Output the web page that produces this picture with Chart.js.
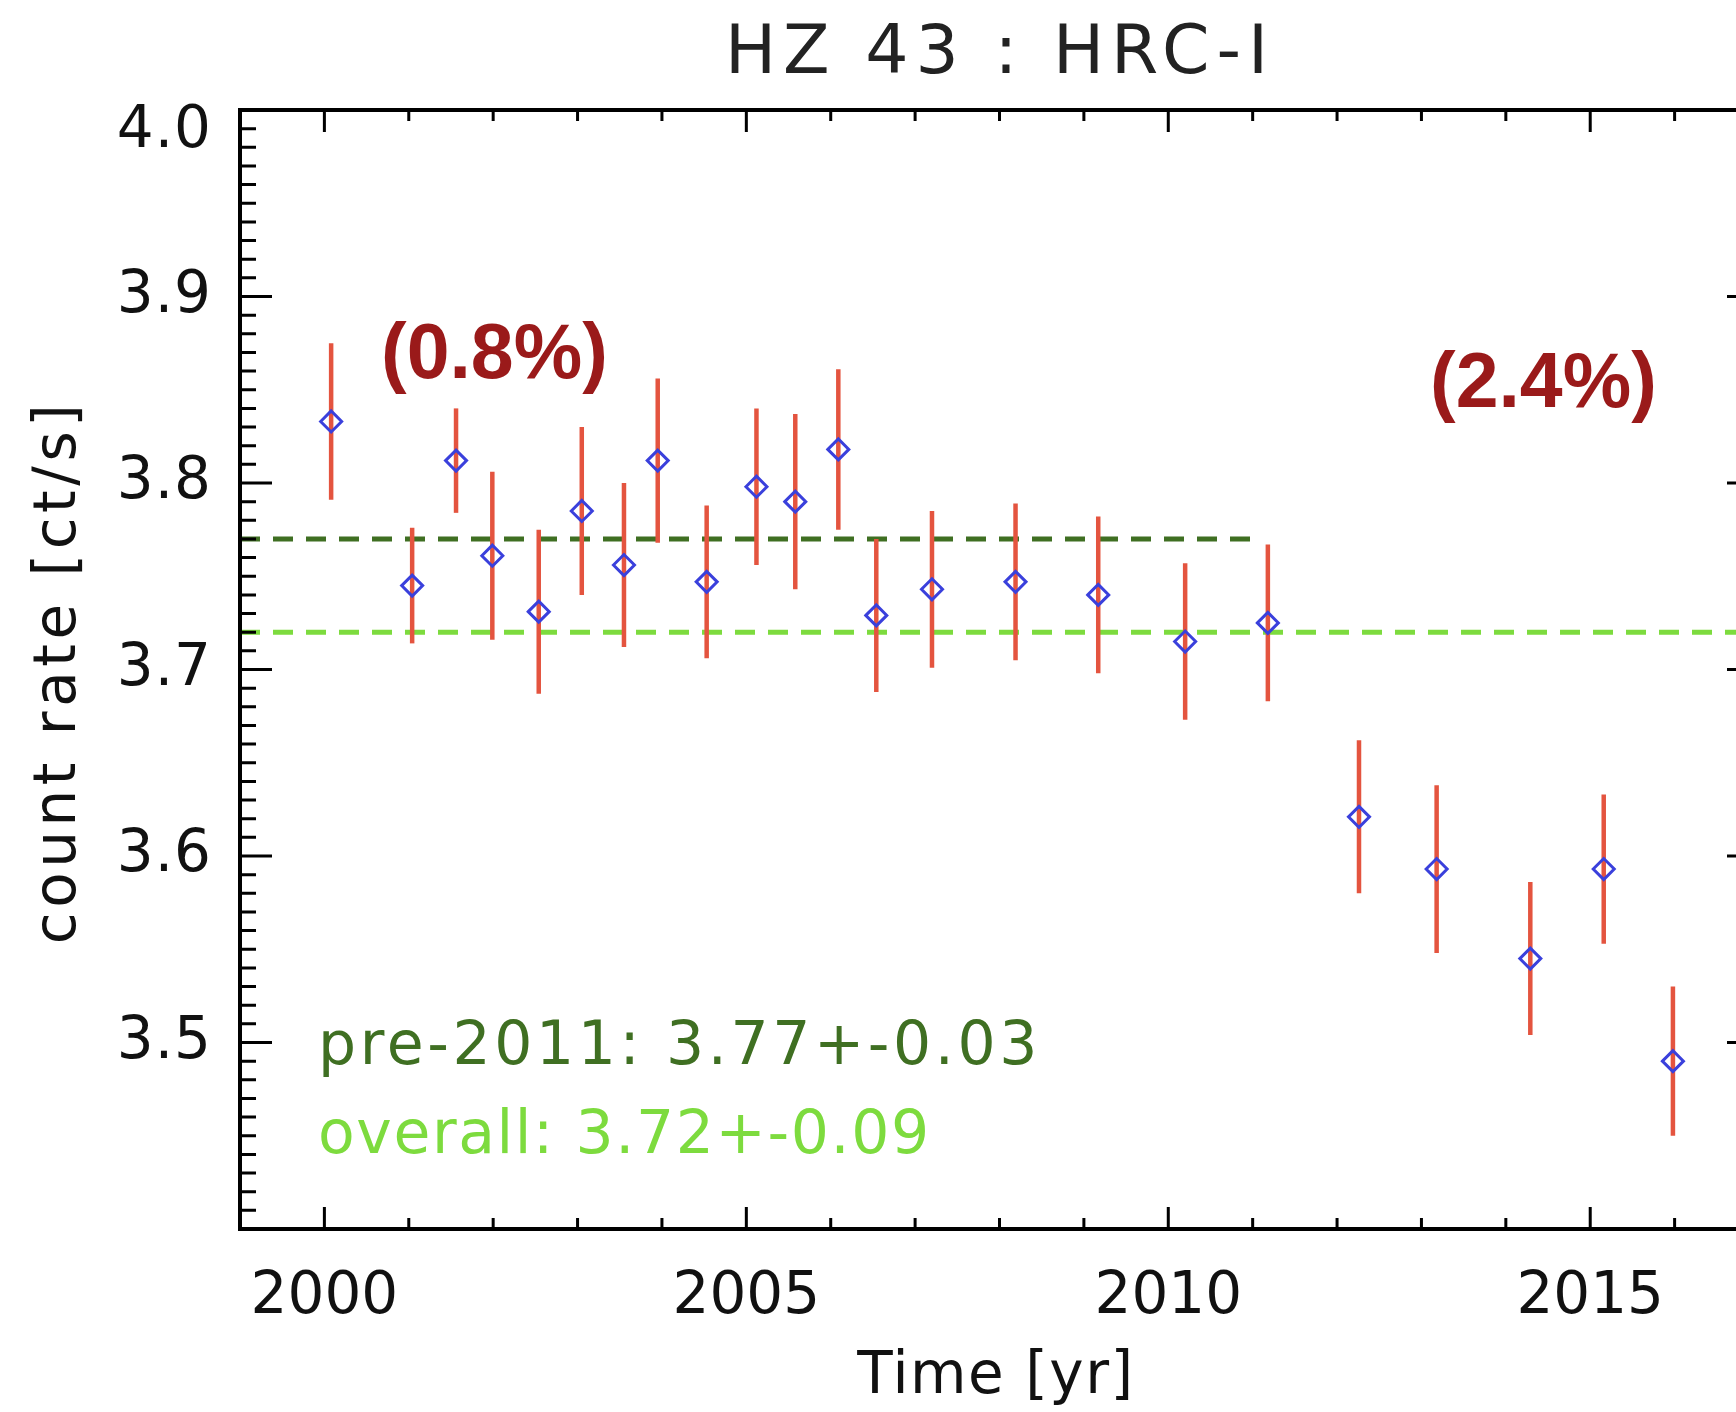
<!DOCTYPE html>
<html>
<head>
<meta charset="utf-8">
<title>HZ 43 : HRC-I</title>
<script src="https://cdn.jsdelivr.net/npm/chart.js@4.4.1/dist/chart.umd.min.js"></script>
<style>
  html, body { margin: 0; padding: 0; background: #fff; overflow: hidden; }
  canvas { display: block; }
</style>
</head>
<body>
<canvas id="count-rate" width="1780" height="1412"></canvas>
<script>
// HZ 43 count rate per observation, with 1-sigma errors
var years = [2000.08, 2001.04, 2001.56, 2001.99, 2002.54, 2003.05, 2003.55, 2003.95,
  2004.53, 2005.12, 2005.58, 2006.09, 2006.54, 2007.20, 2008.19, 2009.17,
  2010.20, 2011.18, 2012.26, 2013.18, 2014.29, 2015.16, 2015.98];
var rates = [3.833, 3.745, 3.812, 3.761, 3.731, 3.785, 3.756, 3.812,
  3.747, 3.798, 3.790, 3.818, 3.729, 3.743, 3.747, 3.740,
  3.715, 3.725, 3.621, 3.593, 3.545, 3.593, 3.490];
var errors = [0.042, 0.031, 0.028, 0.045, 0.044, 0.045, 0.044, 0.044,
  0.041, 0.042, 0.047, 0.043, 0.041, 0.042, 0.042, 0.042,
  0.042, 0.042, 0.041, 0.045, 0.041, 0.040, 0.040];

var preMean = 3.77;
var preEnd = 2011;
var allMean = 3.72;

var xTickLabels = [2000, 2005, 2010, 2015];
var yTickLabels = ["3.5", "3.6", "3.7", "3.8", "3.9", "4.0"];

var FONT = "'DejaVu Sans', sans-serif";
var darkGreen = "#3f6f22";
var lightGreen = "#7ddb3e";

var points = years.map(function (t, i) {
  return { x: t, y: rates[i] };
});

function drawText(ctx, str, x, y, font, color, align, spacing) {
  ctx.font = font;
  ctx.fillStyle = color;
  ctx.textAlign = align;
  ctx.letterSpacing = spacing + "px";
  ctx.fillText(str, x, y);
}

var frame = {
  id: "frame",
  beforeDatasetDraw: function (chart, args) {
    if (args.index !== 0) return;
    // error bars go under the diamonds
    var ctx = chart.ctx;
    var xs = chart.scales.x;
    var ys = chart.scales.y;
    ctx.save();
    ctx.strokeStyle = "#e4543f";
    ctx.lineWidth = 4.5;
    years.forEach(function (t, i) {
      var px = xs.getPixelForValue(t);
      ctx.beginPath();
      ctx.moveTo(px, ys.getPixelForValue(rates[i] + errors[i]));
      ctx.lineTo(px, ys.getPixelForValue(rates[i] - errors[i]));
      ctx.stroke();
    });
    ctx.restore();
  },
  afterDraw: function (chart) {
    var ctx = chart.ctx;
    var a = chart.chartArea;
    var xs = chart.scales.x;
    var ys = chart.scales.y;
    ctx.save();

    // box
    ctx.strokeStyle = "#000";
    ctx.lineWidth = 4;
    ctx.strokeRect(a.left, a.top, a.right - a.left, a.bottom - a.top);

    // inward ticks, all four sides
    ctx.lineWidth = 3;
    ctx.beginPath();
    for (var yr = 2000; yr < 2017; yr++) {
      var px = xs.getPixelForValue(yr);
      var len = yr % 5 === 0 ? 22 : 11;
      ctx.moveTo(px, a.bottom);
      ctx.lineTo(px, a.bottom - len);
      ctx.moveTo(px, a.top);
      ctx.lineTo(px, a.top + len);
    }
    for (var k = 341; k < 400; k++) {
      var py = ys.getPixelForValue(k / 100);
      var l = k % 10 === 0 ? 32 : 16;
      ctx.moveTo(a.left, py);
      ctx.lineTo(a.left + l, py);
      ctx.moveTo(a.right, py);
      ctx.lineTo(a.right - l, py);
    }
    ctx.stroke();

    // tick labels
    ctx.textBaseline = "middle";
    yTickLabels.forEach(function (lab) {
      var py = Math.max(ys.getPixelForValue(parseFloat(lab)), a.top + 22);
      drawText(ctx, lab, a.left - 28, py, "58px " + FONT, "#111", "right", 1);
    });
    xTickLabels.forEach(function (lab) {
      drawText(ctx, String(lab), xs.getPixelForValue(lab), 1298, "58px " + FONT, "#111", "center", 0);
    });

    // title and axis titles
    ctx.textBaseline = "alphabetic";
    drawText(ctx, "HZ 43 : HRC-I", 1000, 73, "68px " + FONT, "#222", "center", 7);
    drawText(ctx, "Time [yr]", 996, 1393, "58px " + FONT, "#111", "center", 1.5);
    ctx.save();
    ctx.translate(60, 672);
    ctx.rotate(-Math.PI / 2);
    ctx.textBaseline = "middle";
    drawText(ctx, "count rate [ct/s]", 0, 0, "58px " + FONT, "#111", "center", 4.5);
    ctx.restore();

    // mean values
    drawText(ctx, "pre-2011: 3.77+-0.03", 318, 1064, "60px " + FONT, darkGreen, "left", 3.6);
    drawText(ctx, "overall: 3.72+-0.09", 318, 1153, "60px " + FONT, lightGreen, "left", 1.6);

    // scatter in each period
    drawText(ctx, "(0.8%)", 381, 378, "bold 77px 'Liberation Sans', Arial, sans-serif", "#9a1a1a", "left", 0);
    drawText(ctx, "(2.4%)", 1430, 407, "bold 77px 'Liberation Sans', Arial, sans-serif", "#9a1a1a", "left", 0);

    ctx.restore();
  }
};

new Chart(document.getElementById("count-rate"), {
  type: "scatter",
  data: {
    datasets: [
      {
        label: "count rate",
        data: points,
        pointStyle: "rectRot",
        pointRadius: 10.5,
        pointHoverRadius: 10.5,
        pointBorderWidth: 3,
        borderColor: "#3a40dc",
        backgroundColor: "rgba(0,0,0,0)",
        order: 0,
      },
      {
        type: "line",
        label: "pre-2011",
        data: [{ x: 1999, y: preMean }, { x: preEnd, y: preMean }],
        borderColor: darkGreen,
        borderWidth: 5,
        borderDash: [20, 13],
        pointRadius: 0,
        order: 2,
      },
      {
        type: "line",
        label: "overall",
        data: [{ x: 1999, y: allMean }, { x: 2017, y: allMean }],
        borderColor: lightGreen,
        borderWidth: 5,
        borderDash: [20, 13],
        pointRadius: 0,
        order: 1,
      },
    ],
  },
  options: {
    responsive: false,
    animation: false,
    events: [],
    layout: { padding: { left: 240, top: 110, right: 21, bottom: 183 } },
    plugins: {
      legend: { display: false },
      title: { display: false },
      tooltip: { enabled: false },
    },
    scales: {
      x: { type: "linear", min: 1999, max: 2017, display: false },
      y: { type: "linear", min: 3.4, max: 4.0, display: false },
    },
  },
  plugins: [frame],
});
</script>
</body>
</html>
